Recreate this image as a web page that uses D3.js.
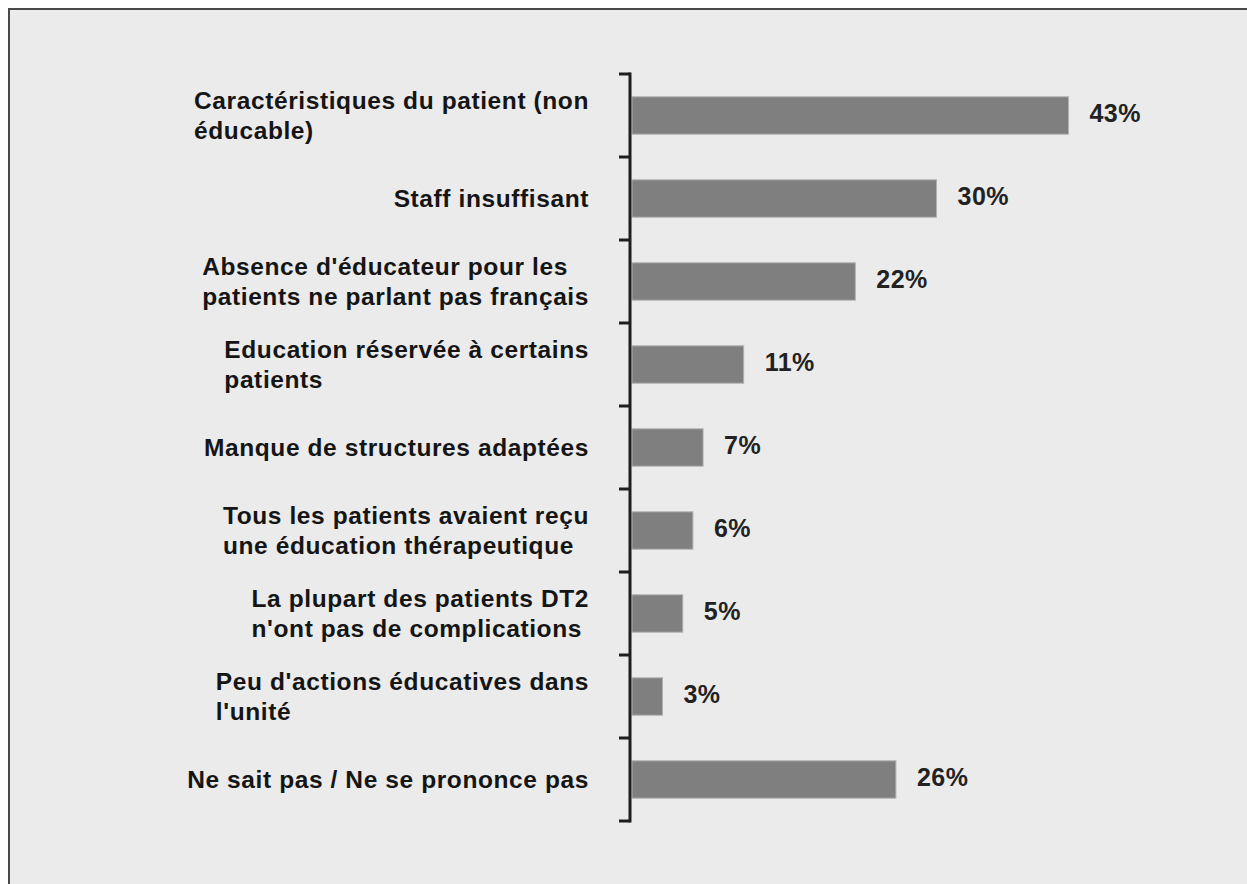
<!DOCTYPE html>
<html>
<head>
<meta charset="utf-8">
<script src="https://cdn.jsdelivr.net/npm/d3@7"></script>
<style>
  html, body { margin: 0; padding: 0; background: #fff; }
  svg { display: block; }
  text { font-family: "Liberation Sans", Arial, sans-serif; font-weight: bold; }
</style>
</head>
<body>
<div id="chart"></div>
<script>
// categories, each split in the lines the original uses
const categories = [
  "Caractéristiques du patient (non éducable)",
  "Staff insuffisant",
  "Absence d'éducateur pour les patients ne parlant pas français",
  "Education réservée à certains patients",
  "Manque de structures adaptées",
  "Tous les patients avaient reçu une éducation thérapeutique",
  "La plupart des patients DT2 n'ont pas de complications",
  "Peu d'actions éducatives dans l'unité",
  "Ne sait pas / Ne se prononce pas"
];
const labelLines = [
  ["Caractéristiques du patient (non", "éducable)"],
  ["Staff insuffisant"],
  ["Absence d'éducateur pour les", "patients ne parlant pas français"],
  ["Education réservée à certains", "patients"],
  ["Manque de structures adaptées"],
  ["Tous les patients avaient reçu", "une éducation thérapeutique"],
  ["La plupart des patients DT2", "n'ont pas de complications"],
  ["Peu d'actions éducatives dans", "l'unité"],
  ["Ne sait pas / Ne se prononce pas"]
];
const values = [43, 30, 22, 11, 7, 6, 5, 3, 26];

const width = 1247, height = 884;
const axisX = 630, labelRight = 589;

const svg = d3.select("#chart")
  .append("svg")
  .attr("width", width)
  .attr("height", height);

// panel background + frame (right / bottom edges run off the picture)
svg.append("rect")
  .attr("x", 9).attr("y", 9)
  .attr("width", width + 20).attr("height", height + 20)
  .attr("fill", "#ebebeb")
  .attr("stroke", "#4a4a4a")
  .attr("stroke-width", 2);

const p = 0.55;
const y = d3.scaleBand()
  .domain(categories)
  .range([74, 821])
  .paddingInner(p)
  .paddingOuter(p / 2);

const x = d3.scaleLinear()
  .domain([0, 50])
  .range([axisX + 2, axisX + 2 + 507.5]);

// bars
svg.selectAll(".bar")
  .data(categories)
  .enter()
  .append("rect")
  .attr("class", "bar")
  .attr("x", x(0))
  .attr("y", d => y(d))
  .attr("width", (d, i) => x(values[i]) - x(0))
  .attr("height", y.bandwidth())
  .attr("fill", "#7f7f7f")
  .attr("stroke", "#b0b0b0")
  .attr("stroke-width", 1);

// value labels
svg.selectAll(".val")
  .data(categories)
  .enter()
  .append("text")
  .attr("class", "val")
  .attr("x", (d, i) => x(values[i]) + 21)
  .attr("y", d => y(d) + y.bandwidth() / 2 - 2)
  .attr("dy", "0.35em")
  .attr("font-size", "25px")
  .attr("letter-spacing", "0.5px")
  .attr("fill", "#222")
  .text((d, i) => values[i] + "%");

// vertical axis with ticks between the bands
const ticks = d3.range(categories.length + 1).map(i => y.range()[0] + i * y.step());
svg.append("line")
  .attr("x1", axisX).attr("x2", axisX)
  .attr("y1", ticks[0]).attr("y2", ticks[ticks.length - 1])
  .attr("stroke", "#1e1e1e")
  .attr("stroke-width", 3)
  .attr("stroke-linecap", "square");
svg.selectAll(".tick")
  .data(ticks)
  .enter()
  .append("line")
  .attr("x1", axisX - 11).attr("x2", axisX)
  .attr("y1", d => d).attr("y2", d => d)
  .attr("stroke", "#1e1e1e")
  .attr("stroke-width", 3);

// category labels: lines left aligned, block pushed against the axis
const lineH = 30;
categories.forEach((c, i) => {
  const lines = labelLines[i];
  const g = svg.append("g");
  const t = g.append("text")
    .attr("font-size", "24.5px")
    .attr("letter-spacing", "0.6px")
    .attr("fill", "#151515");
  lines.forEach((l, k) => {
    t.append("tspan")
      .attr("x", 0)
      .attr("y", (k - (lines.length - 1) / 2) * lineH)
      .attr("dy", "0.35em")
      .text(l);
  });
  const w = t.node().getBBox().width;
  g.attr("transform", `translate(${labelRight - w},${y(c) + y.bandwidth() / 2})`);
});
</script>
</body>
</html>
